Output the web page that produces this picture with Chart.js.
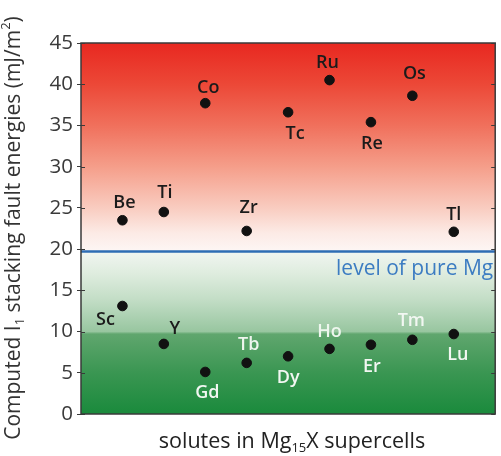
<!DOCTYPE html>
<html>
<head>
<meta charset="utf-8">
<script src="https://cdn.jsdelivr.net/npm/chart.js@4.4.1/dist/chart.umd.min.js"></script>
<style>
  html,body{margin:0;padding:0;background:#fff;}
  #wrap{width:501px;height:456px;position:relative;}
</style>
</head>
<body>
<div id="wrap"><canvas id="sfe"></canvas></div>
<script>
// ---------- data ----------
const solutesHigh = ['Be','Ti','Co','Zr','Tc','Ru','Re','Os','Tl'];
const sfeHigh     = [23.5, 24.5, 37.7, 22.2, 36.6, 40.5, 35.4, 38.6, 22.1];
const solutesLow  = ['Sc','Y','Gd','Tb','Dy','Ho','Er','Tm','Lu'];
const sfeLow      = [13.1, 8.5, 5.1, 6.2, 7.0, 7.9, 8.4, 9.0, 9.7];
const columns     = [1,2,3,4,5,6,7,8,9];
const pureMg      = 19.7;
const yTicks      = [0,5,10,15,20,25,30,35,40,45];

// ---------- label placement (px offsets from each dot) ----------
const offHigh = [[2,-17],[1,-19],[3,-15],[2,-23],[7,22],[-2,-17],[1,22],[2,-22],[0,-17]];
const offLow  = [[-17,14],[11,-15],[2,21],[2,-18],[0,22],[0,-17],[1,22],[-1,-19],[4,21]];
const colHigh = Array(9).fill('#1b1b1b');
const colLow  = ['#1b1b1b','#1b1b1b','#f2f7f2','#eef5ee','#f2f7f2','#eef6ee','#f2f7f2','#f2f7f2','#f2f7f2'];

const FONT = '"Open Sans", Lato, sans-serif';

// draw a string made of normal / sub / sup pieces, centred on (x,y)
function richText(ctx, parts, x, y, size, color){
  ctx.save();
  ctx.fillStyle = color;
  ctx.textBaseline = 'middle';
  ctx.textAlign = 'left';
  const small = Math.round(size*0.6);
  let w = 0;
  parts.forEach(p=>{
    ctx.font = (p.s ? small : size) + 'px ' + FONT;
    p.w = ctx.measureText(p.t).width; w += p.w;
  });
  let cx = x - w/2;
  parts.forEach(p=>{
    ctx.font = (p.s ? small : size) + 'px ' + FONT;
    const dy = p.s === 'sub' ? size*0.3 : p.s === 'sup' ? -size*0.35 : 0;
    ctx.fillText(p.t, cx, y + dy);
    cx += p.w;
  });
  ctx.restore();
}

const backdrop = {
  id:'backdrop',
  beforeDatasetsDraw(chart){
    const {ctx, chartArea:a} = chart;
    const g = ctx.createLinearGradient(0, a.top, 0, a.bottom);
    const f = v => (45 - v)/45;
    g.addColorStop(0,        'rgb(232,40,32)');
    g.addColorStop(f(40),    'rgb(236,72,55)');
    g.addColorStop(f(35),    'rgb(240,112,92)');
    g.addColorStop(f(30),    'rgb(245,158,138)');
    g.addColorStop(f(25),    'rgb(249,204,192)');
    g.addColorStop(f(22),    'rgb(252,234,229)');
    g.addColorStop(f(19.8),  'rgb(253,246,244)');
    g.addColorStop(f(19.6),  'rgb(240,245,240)');
    g.addColorStop(f(17),    'rgb(222,236,222)');
    g.addColorStop(f(14),    'rgb(196,222,199)');
    g.addColorStop(f(10),    'rgb(152,198,160)');
    g.addColorStop(f(9.7),   'rgb(96,166,110)');
    g.addColorStop(f(5),     'rgb(58,150,82)');
    g.addColorStop(1,        'rgb(26,138,60)');
    ctx.save();
    ctx.fillStyle = g;
    ctx.fillRect(a.left, a.top, a.right - a.left, a.bottom - a.top);
    ctx.restore();
  },
  afterDatasetsDraw(chart){
    const {ctx, chartArea:a, scales:{x, y}} = chart;
    ctx.save();
    // element labels
    ctx.font = '600 18px ' + FONT;
    ctx.textAlign = 'center';
    ctx.textBaseline = 'middle';
    columns.forEach((c,i)=>{
      ctx.fillStyle = colHigh[i];
      ctx.fillText(solutesHigh[i], x.getPixelForValue(c)+offHigh[i][0], y.getPixelForValue(sfeHigh[i])+offHigh[i][1]);
      ctx.fillStyle = colLow[i];
      ctx.fillText(solutesLow[i], x.getPixelForValue(c)+offLow[i][0], y.getPixelForValue(sfeLow[i])+offLow[i][1]);
    });
    // reference line caption
    ctx.font = '21px ' + FONT;
    ctx.fillStyle = '#3c7cc2';
    ctx.textAlign = 'right';
    ctx.fillText('level of pure Mg', a.right - 2, y.getPixelForValue(pureMg) + 17);
    // frame + inner ticks
    ctx.strokeStyle = '#3a3a3a';
    ctx.lineWidth = 1.5;
    ctx.strokeRect(a.left, a.top, a.right - a.left, a.bottom - a.top);
    ctx.lineWidth = 1;
    yTicks.forEach(v=>{
      const py = Math.round(y.getPixelForValue(v)) + 0.5;
      ctx.beginPath();
      ctx.moveTo(a.left, py); ctx.lineTo(a.left + 4, py);
      ctx.moveTo(a.right, py); ctx.lineTo(a.right - 4, py);
      ctx.stroke();
    });
    ctx.restore();
    // axis titles
    ctx.save();
    ctx.translate(14, 228);
    ctx.rotate(-Math.PI/2);
    richText(ctx, [{t:'Computed I'},{t:'1',s:'sub'},{t:' stacking fault energies (mJ/m'},{t:'2',s:'sup'},{t:')'}], 0, 0, 21, '#333');
    ctx.restore();
    richText(ctx, [{t:'solutes in Mg'},{t:'15',s:'sub'},{t:'X supercells'}], 292, 442, 21.5, '#222');
  }
};

new Chart(document.getElementById('sfe'), {
  type:'scatter',
  data:{
    datasets:[
      {data: columns.map((c,i)=>({x:c, y:sfeHigh[i]})), backgroundColor:'#111', borderColor:'#111', pointRadius:4.8},
      {data: columns.map((c,i)=>({x:c, y:sfeLow[i]})),  backgroundColor:'#111', borderColor:'#111', pointRadius:4.8},
      {type:'line', data:[{x:0, y:pureMg},{x:10, y:pureMg}], borderColor:'#2e6db4', borderWidth:2.5, pointRadius:0, order:5}
    ]
  },
  options:{
    responsive:true, maintainAspectRatio:false, animation:false,
    layout:{padding:{top:43, right:1, bottom:42, left:0}},
    plugins:{legend:{display:false}, tooltip:{enabled:false}},
    scales:{
      x:{type:'linear', min:0, max:10, display:false},
      y:{
        min:0, max:45,
        afterFit: s => { s.width = 81; },
        afterBuildTicks: s => { s.ticks = yTicks.map(v=>({value:v})); },
        ticks:{font:{family:FONT, size:20.5}, color:'#3a3a3a', padding:4},
        grid:{drawOnChartArea:false, tickLength:4, color:'#3a3a3a'},
        border:{display:false}
      }
    }
  },
  plugins:[backdrop]
});
</script>
</body>
</html>
